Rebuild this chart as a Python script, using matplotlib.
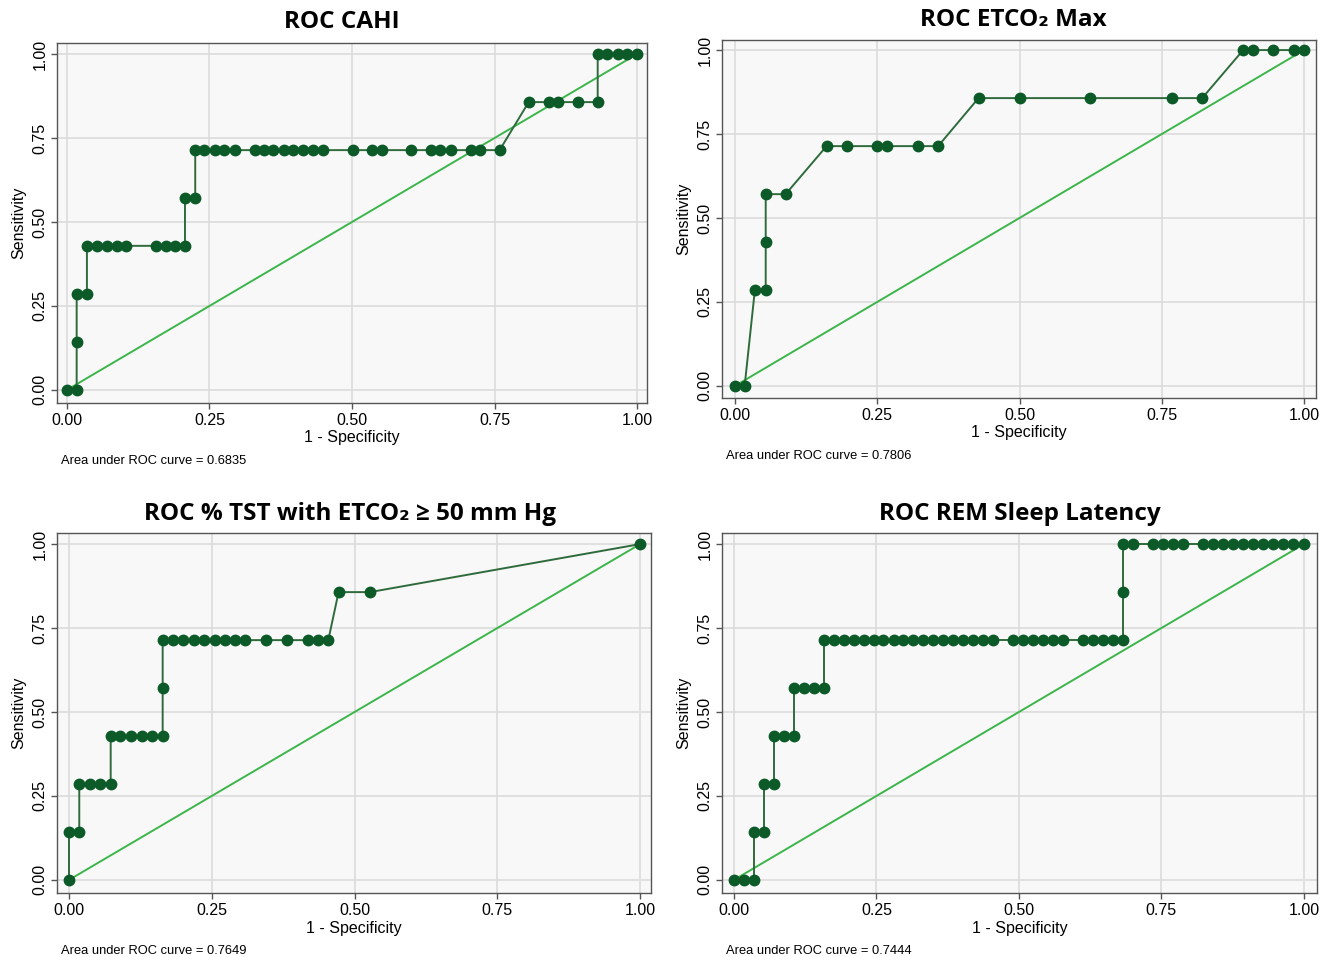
import matplotlib
matplotlib.use("Agg")
import matplotlib.pyplot as plt

# sensitivity levels (steps of 1/7)
s0, s1, s2, s3, s4, s5, s6, s7 = 0.0, 0.143, 0.286, 0.429, 0.571, 0.714, 0.857, 1.0

# ROC CAHI
cahi_x = [0.0, 0.017, 0.017, 0.017, 0.035,
          0.035, 0.052, 0.070, 0.087, 0.104, 0.156, 0.173, 0.190, 0.207,
          0.207, 0.225,
          0.225, 0.241, 0.259, 0.276, 0.294, 0.329, 0.345, 0.362, 0.380, 0.397,
          0.414, 0.431, 0.449, 0.501, 0.535, 0.552, 0.604, 0.638, 0.655, 0.673,
          0.708, 0.724, 0.759,
          0.810, 0.845, 0.862, 0.896, 0.931,
          0.931, 0.948, 0.966, 0.983, 1.0]
cahi_y = [s0, s0, s1, s2, s2,
          s3, s3, s3, s3, s3, s3, s3, s3, s3,
          s4, s4,
          s5, s5, s5, s5, s5, s5, s5, s5, s5, s5,
          s5, s5, s5, s5, s5, s5, s5, s5, s5, s5,
          s5, s5, s5,
          s6, s6, s6, s6, s6,
          s7, s7, s7, s7, s7]

# ROC ETCO2 Max
max_x = [0.0, 0.017, 0.035, 0.054, 0.054, 0.054, 0.089,
         0.161, 0.196, 0.249, 0.267, 0.322, 0.357,
         0.428, 0.500, 0.624, 0.768, 0.821,
         0.893, 0.911, 0.946, 0.982, 1.0]
max_y = [s0, s0, s2, s2, s3, s4, s4,
         s5, s5, s5, s5, s5, s5,
         s6, s6, s6, s6, s6,
         s7, s7, s7, s7, s7]

# ROC % TST with ETCO2 >= 50 mm Hg
tst_x = [0.0, 0.0, 0.018,
         0.018, 0.036, 0.054, 0.073,
         0.073, 0.090, 0.108, 0.128, 0.146, 0.164,
         0.164,
         0.164, 0.182, 0.200, 0.218, 0.236, 0.255, 0.273, 0.291, 0.309,
         0.345, 0.381, 0.418, 0.436, 0.454,
         0.472, 0.527, 1.0]
tst_y = [s0, s1, s1,
         s2, s2, s2, s2,
         s3, s3, s3, s3, s3, s3,
         s4,
         s5, s5, s5, s5, s5, s5, s5, s5, s5,
         s5, s5, s5, s5, s5,
         s6, s6, s7]

# ROC REM Sleep Latency
rem_x = [0.0, 0.017, 0.035,
         0.035, 0.052,
         0.052, 0.071,
         0.071, 0.088, 0.105,
         0.105, 0.123, 0.140, 0.158,
         0.158, 0.175, 0.193, 0.210, 0.228, 0.245, 0.262, 0.280, 0.297, 0.315,
         0.332, 0.350, 0.367, 0.385, 0.402, 0.419, 0.437, 0.454,
         0.490, 0.507, 0.525, 0.543, 0.560, 0.578,
         0.613, 0.630, 0.648, 0.665, 0.683,
         0.683,
         0.683, 0.701, 0.736, 0.753, 0.770, 0.788, 0.823, 0.841, 0.858, 0.876,
         0.893, 0.911, 0.928, 0.946, 0.963, 0.981, 1.0]
rem_y = [s0, s0, s0,
         s1, s1,
         s2, s2,
         s3, s3, s3,
         s4, s4, s4, s4,
         s5, s5, s5, s5, s5, s5, s5, s5, s5, s5,
         s5, s5, s5, s5, s5, s5, s5, s5,
         s5, s5, s5, s5, s5, s5,
         s5, s5, s5, s5, s5,
         s6,
         s7, s7, s7, s7, s7, s7, s7, s7, s7, s7,
         s7, s7, s7, s7, s7, s7, s7]

titles = ["ROC CAHI", "ROC ETCO\u2082 Max",
          "ROC % TST with ETCO\u2082 \u2265 50 mm Hg", "ROC REM Sleep Latency"]
aucs = ["0.6835", "0.7806", "0.7649", "0.7444"]
curves = [(cahi_x, cahi_y), (max_x, max_y), (tst_x, tst_y), (rem_x, rem_y)]

W, H = 1322, 957
fig = plt.figure(figsize=(W / 100, H / 100), dpi=100)
fig.patch.set_facecolor("white")

# frame boxes in pixels: left, top, right, bottom
frames = [(57, 43, 647, 403), (722, 40, 1316, 398),
          (57, 533, 651, 893), (722, 533, 1317, 893)]
xlims = [(-0.0175, 1.0175), (-0.0228, 1.021), (-0.021, 1.019), (-0.021, 1.023)]
ylims = [(-0.039, 1.033), (-0.036, 1.030), (-0.039, 1.033), (-0.039, 1.033)]
# title centre in pixels
title_pos = [(342, 22), (1013, 20), (350, 514), (1020, 514)]

tick_font = ["Liberation Sans", "DejaVu Sans"]
title_font = ["Open Sans", "DejaVu Sans"]

for i in range(4):
    l, t, r, b = frames[i]
    ax = fig.add_axes([l / W, 1 - b / H, (r - l) / W, (b - t) / H])
    ax.set_facecolor("#f8f8f8")
    xs, ys = curves[i]
    ax.plot([0, 1], [0, 1], color="#3cb54a", lw=1.4, zorder=2)
    ax.plot(xs, ys, color="#2f6b3c", lw=1.4, marker="o", ms=7.5,
            mfc="#0b5a27", mec="#0b5a27", zorder=3)
    ax.set_xlim(*xlims[i])
    ax.set_ylim(*ylims[i])
    ticks = [0, 0.25, 0.5, 0.75, 1.0]
    ax.set_xticks(ticks)
    ax.set_yticks(ticks)
    ax.set_xticklabels(["0.00", "0.25", "0.50", "0.75", "1.00"],
                       family=tick_font, fontsize=11.5)
    ax.set_yticklabels(["0.00", "0.25", "0.50", "0.75", "1.00"],
                       family=tick_font, fontsize=11.5, rotation=90, va="center")
    ax.grid(True, color="#dcdcdc", lw=1.2)
    ax.set_axisbelow(True)
    for sp in ax.spines.values():
        sp.set_color("#555555")
        sp.set_linewidth(1.0)
    ax.tick_params(length=4, width=1, color="#555555", pad=3)
    ax.set_xlabel("1 - Specificity", family=tick_font, fontsize=11.5, labelpad=2)
    ax.set_ylabel("Sensitivity", family=tick_font, fontsize=11.5, labelpad=4)
    tx, ty = title_pos[i]
    fig.text(tx / W, 1 - ty / H, titles[i], family=title_font, fontsize=17.5,
             fontweight="bold", ha="center", va="center")
    fig.text((l + 4) / W, 1 - (b + 58) / H, "Area under ROC curve = " + aucs[i],
             family=tick_font, fontsize=9.3, va="center")

fig.savefig("out.png", dpi=100)
